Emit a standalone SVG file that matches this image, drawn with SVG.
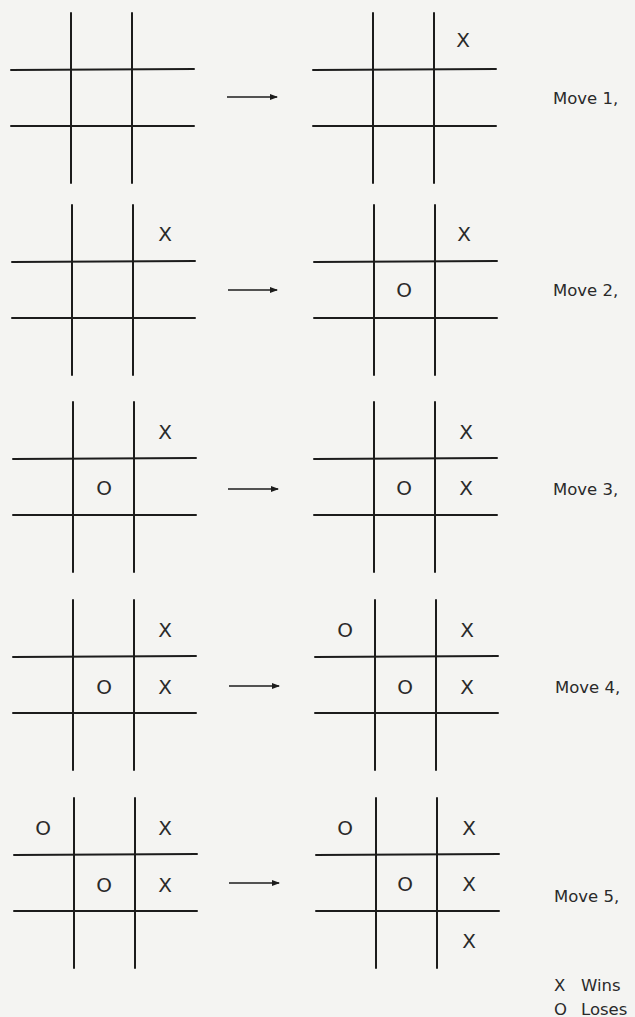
<svg xmlns="http://www.w3.org/2000/svg" width="635" height="1017" viewBox="0 0 635 1017">
<style>
.g line{stroke:#1c1c1c;stroke-width:2;stroke-linecap:round}
.m{font-family:"DejaVu Sans","Liberation Sans",sans-serif;font-size:20px;fill:#2a2a2a;text-anchor:middle;dominant-baseline:central}
.lbl{font-family:"DejaVu Sans","Liberation Sans",sans-serif;font-size:16.5px;fill:#2a2a2a;dominant-baseline:central}
.arr{stroke:#1c1c1c;stroke-width:1.5;fill:none}
</style>
<defs>
<g id="grid" class="g">
<line x1="60" y1="0" x2="60" y2="170"/>
<line x1="121" y1="0" x2="121" y2="170"/>
<line x1="0" y1="57" x2="183" y2="56"/>
<line x1="0" y1="113" x2="183" y2="113"/>
</g>
<marker id="ah" markerWidth="8" markerHeight="6" refX="7" refY="3" orient="auto" markerUnits="userSpaceOnUse">
<path d="M0,0 L8,3 L0,6 Z" fill="#1c1c1c"/>
</marker>
</defs>
<rect width="635" height="1017" fill="#f4f4f2"/>

<g id="move1-before" transform="translate(11,13)"><use href="#grid"/></g>
<g id="move1-after" transform="translate(313,13)"><use href="#grid"/>
<text class="m" x="150" y="27">X</text></g>
<text class="lbl" x="553" y="98">Move 1,</text>

<g id="move2-before" transform="translate(12,205)"><use href="#grid"/>
<text class="m" x="153" y="29">X</text></g>
<g id="move2-after" transform="translate(314,205)"><use href="#grid"/>
<text class="m" x="150" y="29">X</text>
<text class="m" x="90" y="85">O</text></g>
<text class="lbl" x="553" y="290">Move 2,</text>

<g id="move3-before" transform="translate(13,402)"><use href="#grid"/>
<text class="m" x="152" y="30">X</text>
<text class="m" x="91" y="86">O</text></g>
<g id="move3-after" transform="translate(314,402)"><use href="#grid"/>
<text class="m" x="152" y="30">X</text>
<text class="m" x="90" y="86">O</text>
<text class="m" x="152" y="86">X</text></g>
<text class="lbl" x="553" y="489">Move 3,</text>

<g id="move4-before" transform="translate(13,600)"><use href="#grid"/>
<text class="m" x="152" y="30">X</text>
<text class="m" x="91" y="87">O</text>
<text class="m" x="152" y="87">X</text></g>
<g id="move4-after" transform="translate(315,600)"><use href="#grid"/>
<text class="m" x="30" y="30">O</text>
<text class="m" x="152" y="30">X</text>
<text class="m" x="90" y="87">O</text>
<text class="m" x="152" y="87">X</text></g>
<text class="lbl" x="555" y="687">Move 4,</text>

<g id="move5-before" transform="translate(14,798)"><use href="#grid"/>
<text class="m" x="29" y="30">O</text>
<text class="m" x="151" y="30">X</text>
<text class="m" x="90" y="87">O</text>
<text class="m" x="151" y="87">X</text></g>
<g id="move5-after" transform="translate(316,798)"><use href="#grid"/>
<text class="m" x="29" y="30">O</text>
<text class="m" x="153" y="30">X</text>
<text class="m" x="89" y="86">O</text>
<text class="m" x="153" y="86">X</text>
<text class="m" x="153" y="143">X</text></g>
<text class="lbl" x="554" y="896">Move 5,</text>

<g id="legend">
<text class="lbl" x="554" y="985">X</text>
<text class="lbl" x="581" y="985">Wins</text>
<text class="lbl" x="554" y="1009">O</text>
<text class="lbl" x="581" y="1009">Loses</text>
</g>

<g id="connectors">
<line class="arr" x1="227" y1="97" x2="277" y2="97" marker-end="url(#ah)"/>
<line class="arr" x1="228" y1="290" x2="277" y2="290" marker-end="url(#ah)"/>
<line class="arr" x1="228" y1="489" x2="278" y2="489" marker-end="url(#ah)"/>
<line class="arr" x1="229" y1="686" x2="279" y2="686" marker-end="url(#ah)"/>
<line class="arr" x1="229" y1="883" x2="279" y2="883" marker-end="url(#ah)"/>
</g>
</svg>
